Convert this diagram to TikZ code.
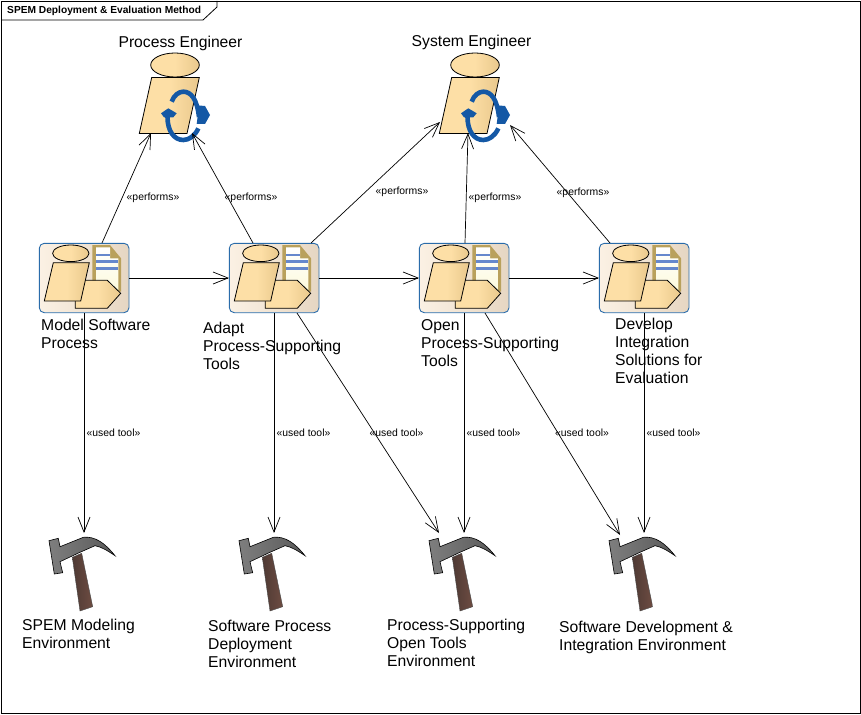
\documentclass[tikz,border=0pt]{standalone}
\usepackage{fontspec}
\setmainfont{Liberation Sans}
\usetikzlibrary{arrows.meta}
\definecolor{skin}{HTML}{FDDFA6}
\definecolor{skindark}{HTML}{E9C88C}
\definecolor{bluearrow}{HTML}{1458A5}
\definecolor{boxedge}{HTML}{2A6CAA}
\definecolor{boxleft}{HTML}{FBF1E4}
\definecolor{boxright}{HTML}{E6D6C2}
\definecolor{doctan}{HTML}{B9A15C}
\definecolor{docpale}{HTML}{FCFADC}
\definecolor{docline}{HTML}{6688CC}
\definecolor{hleft}{HTML}{7E7E7E}
\definecolor{hmid}{HTML}{9A9A9A}
\definecolor{hright}{HTML}{5A5A5A}
\definecolor{wleft}{HTML}{4E3A34}
\definecolor{wright}{HTML}{6E4C42}
\tikzset{
  anchorbox/.style={inner sep=0pt,outer sep=0pt,draw=none},
  conn/.style={draw=black,line width=0.7pt,-{Straight Barb[length=15pt,width=12pt,line width=0.7pt]}},
  lbl/.style={anchor=north west,inner sep=0pt,align=left,font=\fontsize{15.7}{18}\selectfont},
  ster/.style={inner sep=0pt,font=\fontsize{10.4}{12}\selectfont},
  skinfill/.style={draw=black,line width=0.8pt,left color=skin,right color=skindark,middle color=skin},
  rolepic/.pic={
    \path[skinfill] (36,12) ellipse [x radius=24.3,y radius=12];
    \path[skinfill] (12.7,24.5) -- (60.3,24.5) -- (48,80.5) -- (0.3,80.5) -- cycle;
    \draw[bluearrow,line width=4.6pt] (32.7,48.7) .. controls (35,42) and (40,38.7) .. (44.3,38.7)
       .. controls (52,38.7) and (58,46) .. (60,64);
    \draw[bluearrow,line width=4.6pt] (59.3,75.3) .. controls (56,83) and (50,87) .. (44.3,87)
       .. controls (35,87) and (28.5,78) .. (28.5,64);
    \fill[bluearrow] (22,60.3) -- (29.3,55.3) -- (37.7,60.3) -- (34.3,64.3) -- (25,64.3) -- cycle;
    \fill[bluearrow] (60,52.5) -- (66,53) -- (71,62) -- (66,71) -- (57.7,71) -- cycle;
  },
  actpic/.pic={
    \path[draw=boxedge,line width=0.9pt,rounded corners=5pt,left color=boxleft,right color=boxright]
      (0.3,0.3) rectangle (90,69.7);
    \fill[doctan] (53.3,2) -- (71,2) -- (82,15.3) -- (82,48.7) -- (53.3,48.7) -- cycle;
    \path[top color=white,bottom color=docpale] (57,4.3) -- (71,4.3) -- (71,15.3) -- (79.3,15.3) -- (79.3,47) -- (57,47) -- cycle;
    \draw[docline,line width=2.6pt] (57,12) -- (71,12) (57,18.7) -- (79.3,18.7) (57,25.3) -- (79.3,25.3);
    \path[skinfill] (36,37.3) -- (68.3,37.3) -- (81.7,50.3) -- (68.3,65.3) -- (36.3,65.3) -- cycle;
    \path[skinfill] (31.8,10.3) ellipse [x radius=18.2,y radius=8.3];
    \path[skinfill] (14.3,19.7) -- (50.3,19.7) -- (41.7,58) -- (5.3,58) -- cycle;
  },
  toolpic/.pic={
    \path[draw=black!70,line width=0.4pt,left color=wleft,right color=wright]
      (32.3,32.3) -- (41.7,28.3) -- (52.7,81.7) -- (40,86) -- cycle;
    \path[draw=black,line width=0.6pt,left color=hleft,middle color=hmid,right color=hright]
      (9,15.7) -- (18.3,13.3) -- (20,21.7) -- (43.3,12.3) .. controls (55,11) and (65,18) .. (75,30.7)
      .. controls (68,26) and (62,22) .. (55,20.7) -- (40,27.3) -- (20,36.7) -- (22.7,47.7) -- (14.3,49) -- cycle;
  }
}
\begin{document}
\begin{tikzpicture}[x=1pt,y=-1pt]
\useasboundingbox (0,0) rectangle (861,714);
\fill[white] (0,0) rectangle (861,714);
\node[anchorbox,draw=black,line width=0.8pt,minimum width=859pt,minimum height=712pt] (frame) at (430.5,357) {};
\coordinate (tabA) at (1,20);
\coordinate (tabB) at (203,20);
\coordinate (tabC) at (217,7);
\coordinate (tabD) at (217,1);
\draw[line width=0.8pt] (tabA) -- (tabB) -- (tabC) -- (tabD);
\node[anchor=west,inner sep=0pt,font=\fontsize{10.2}{12}\selectfont\bfseries] (title) at (7,10.5) {SPEM Deployment \& Evaluation Method};

% icons
\node[anchorbox,minimum width=61pt,minimum height=80pt] (r1) at (169.5,93) {};
\node[anchorbox,minimum width=61pt,minimum height=80pt] (r2) at (469.5,93) {};
\pic at (139,53) {rolepic};
\pic at (439,53) {rolepic};
\foreach \n/\x in {a1/84,a2/274,a3/464,a4/644}{
  \node[anchorbox,minimum width=90pt,minimum height=70pt] (\n) at (\x,278) {};
  \pic at (\x-45,243) {actpic};
}
\foreach \n/\x in {t1/82,t2/272,t3/462,t4/642}{
  \node[anchorbox,minimum width=66pt,minimum height=79pt] (\n) at (\x,572.5) {};
  \pic at (\x-42,525) {toolpic};
}

% connectors
\draw[conn] ([xshift=18pt]a1.north) -- ([xshift=-18.5pt]r1.south);
\draw[conn] ([xshift=-21pt]a2.north) -- ([xshift=22.5pt]r1.south);
\draw[conn] ([xshift=37pt]a2.north) -- ([xshift=1pt,yshift=11pt]r2.south west);
\draw[conn] ([xshift=1pt]a3.north) -- ([xshift=-1.5pt]r2.south);
\draw[conn] ([xshift=-34pt]a4.north) -- ([xshift=40.5pt,yshift=8pt]r2.south);
\draw[conn] (a1.east) -- (a2.west);
\draw[conn] (a2.east) -- (a3.west);
\draw[conn] (a3.east) -- (a4.west);
\draw[conn] (a1.south) -- ([xshift=2pt]t1.north);
\draw[conn] (a2.south) -- ([xshift=2pt]t2.north);
\draw[conn] ([xshift=23pt]a2.south) -- ([xshift=-23pt]t3.north);
\draw[conn] (a3.south) -- ([xshift=2pt]t3.north);
\draw[conn] ([xshift=21pt]a3.south) -- ([xshift=-22pt,yshift=-2pt]t4.north);
\draw[conn] (a4.south) -- ([xshift=2pt]t4.north);

% stereotype labels
\node[ster] (p1) at (153,197.5) {«performs»};
\node[ster] (p2) at (251,197.5) {«performs»};
\node[ster] (p3) at (402,191.5) {«performs»};
\node[ster] (p4) at (495,197.5) {«performs»};
\node[ster] (p5) at (583,192.5) {«performs»};
\node[ster] (u1) at (113.5,432.5) {«used tool»};
\node[ster] (u2) at (303.5,432.5) {«used tool»};
\node[ster] (u3) at (396.5,432.5) {«used tool»};
\node[ster] (u4) at (493.5,432.5) {«used tool»};
\node[ster] (u5) at (582,432.5) {«used tool»};
\node[ster] (u6) at (673.5,432.5) {«used tool»};

% names
\node[lbl,anchor=center] (rn1) at (180.5,43.5) {Process Engineer};
\node[lbl,anchor=center] (rn2) at (471.5,42.5) {System Engineer};
\node[lbl] (an1) at (41,319) {Model Software\\Process};
\node[lbl] (an2) at (203,322) {Adapt\\Process-Supporting\\Tools};
\node[lbl] (an3) at (421,319) {Open\\Process-Supporting\\Tools};
\node[lbl] (an4) at (615,318) {Develop\\Integration\\Solutions for\\Evaluation};
\node[lbl] (tn1) at (22,619) {SPEM Modeling\\Environment};
\node[lbl] (tn2) at (208,620) {Software Process\\Deployment\\Environment};
\node[lbl] (tn3) at (387,619) {Process-Supporting\\Open Tools\\Environment};
\node[lbl] (tn4) at (559,621) {Software Development \&\\Integration Environment};
\end{tikzpicture}
\end{document}
